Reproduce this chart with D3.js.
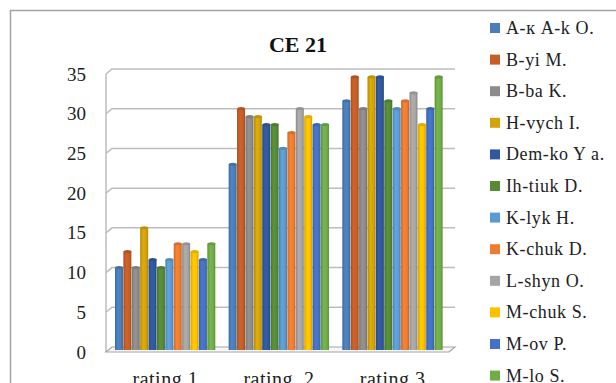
<!DOCTYPE html>
<html><head><meta charset="utf-8">
<script src="https://cdn.jsdelivr.net/npm/d3@7"></script>
<style>
html,body{margin:0;padding:0;background:#fff;overflow:hidden}
text{font-family:"Liberation Serif","Times New Roman",serif}
</style></head>
<body><svg id="c" width="616" height="383"></svg>
<script>
const categories = ["rating 1", "rating  2", "rating 3"];
const seriesNames = ["A-к A-k O.", "B-yi M.", "B-ba K.", "H-vych I.", "Dem-ko Y a.", "Ih-tiuk D.",
  "K-lyk H.", "K-chuk D.", "L-shyn O.", "M-chuk S.", "M-ov P.", "M-lo S."];
const rating1 = [10, 12, 10, 15, 11, 10, 11, 13, 13, 12, 11, 13];
const rating2 = [23, 30, 29, 29, 28, 28, 25, 27, 30, 29, 28, 28];
const rating3 = [31, 34, 30, 34, 34, 31, 30, 31, 32, 28, 30, 34];
const colors = ["#4a7ebb", "#c65e26", "#8c8c8c", "#d4a30a", "#30589f", "#568a37",
  "#5b9bd5", "#ed7d31", "#a5a5a5", "#ffc000", "#4472c4", "#70ad47"];
const yTicks = [0, 5, 10, 15, 20, 25, 30, 35];
const title = "CE 21";

const values = [rating1, rating2, rating3];
const svg = d3.select("#c");
const SERIF = '"Liberation Serif","Times New Roman",serif';

// outer border
svg.append("rect").attr("x", 10.5).attr("y", 10.5).attr("width", 700).attr("height", 500)
  .attr("fill", "none").attr("stroke", "#a3a3a3").attr("stroke-width", 1.5);

const dx = 6;
const yFront = d3.scaleLinear().domain([0, 35]).range([352, 74]);
const yBack = d3.scaleLinear().domain([0, 35]).range([347, 69]);
const x0 = d3.scaleBand().domain(categories).range([108.5, 449.5]).paddingInner(0.114).paddingOuter(0.057);
const x1 = d3.scaleBand().domain(d3.range(seriesNames.length)).range([0, x0.bandwidth()]);
const wallL = 106, wallR = 449;

// gridlines (back wall + left wall diagonal)
const grid = svg.append("g");
yTicks.forEach(t => {
  if (t === 0) return;
  grid.append("path")
    .attr("d", `M${wallL},${yFront(t)} L${wallL + dx},${yBack(t)} L${wallR + dx},${yBack(t)}`)
    .attr("fill", "none").attr("stroke", "#bdbdbd").attr("stroke-width", 1.5);
});
grid.append("line").attr("x1", wallL).attr("x2", wallL).attr("y1", yFront(35)).attr("y2", yFront(0))
  .attr("stroke", "#bdbdbd").attr("stroke-width", 1.5);
grid.append("path")
  .attr("d", `M${wallL},${yFront(0)} L${wallL + dx},${yBack(0)} L${wallR + dx},${yBack(0)} L${wallR},${yFront(0)} Z`)
  .attr("fill", "#f7f7f7").attr("stroke", "#a6a6a6").attr("stroke-width", 1.2);

// y axis labels
const yAxis = d3.axisLeft(yFront).tickValues(yTicks).tickSize(0).tickPadding(0);
const ya = svg.append("g").attr("transform", "translate(86,0)").call(yAxis);
ya.select(".domain").remove();
ya.attr("font-family", SERIF);
ya.selectAll("text").attr("font-size", 19).attr("fill", "#222").style("font-family", SERIF);

// gradients
const defs = svg.append("defs");
colors.forEach((c, i) => {
  const g = defs.append("linearGradient").attr("id", "g" + i).attr("x1", 0).attr("x2", 1).attr("y1", 0).attr("y2", 0);
  const cc = d3.color(c);
  g.append("stop").attr("offset", "0%").attr("stop-color", cc.darker(0.5));
  g.append("stop").attr("offset", "35%").attr("stop-color", cc.brighter(0.15));
  g.append("stop").attr("offset", "75%").attr("stop-color", c);
  g.append("stop").attr("offset", "100%").attr("stop-color", cc.darker(0.6));
});

// bars
const bars = svg.append("g");
categories.forEach((cat, ci) => {
  seriesNames.forEach((s, si) => {
    const v = values[ci][si];
    const x = x0(cat) + x1(si);
    const w = x1.bandwidth();
    const yt = yBack(v);
    bars.append("rect").attr("x", x).attr("y", yt).attr("width", w - 0.4)
      .attr("height", yFront(0) - 2 - yt).attr("fill", `url(#g${si})`);
    bars.append("ellipse").attr("cx", x + w / 2).attr("cy", yt).attr("rx", w / 2 - 0.2).attr("ry", 1.6)
      .attr("fill", d3.color(colors[si]).darker(0.3));
  });
});

// category labels
svg.append("g").selectAll("text").data(categories).join("text")
  .attr("x", d => x0(d) + x0.bandwidth() / 2).attr("y", 386)
  .attr("text-anchor", "middle").attr("font-size", 20).attr("fill", "#222")
  .attr("letter-spacing", 0.5)
  .style("white-space", "pre").text(d => d);

// title
svg.append("text").attr("x", 298).attr("y", 52).attr("text-anchor", "middle")
  .attr("font-size", 22).attr("font-weight", "bold").attr("fill", "#111").text(title);

// legend
const lg = svg.append("g");
seriesNames.forEach((s, i) => {
  const cy = 28 + i * 31.6;
  lg.append("rect").attr("x", 490).attr("y", cy - 5).attr("width", 10).attr("height", 10).attr("fill", colors[i]);
  lg.append("text").attr("x", 506).attr("y", cy + 6).attr("font-size", 18).attr("letter-spacing", 0.6)
    .attr("fill", "#222").text(s);
});
</script></body></html>
